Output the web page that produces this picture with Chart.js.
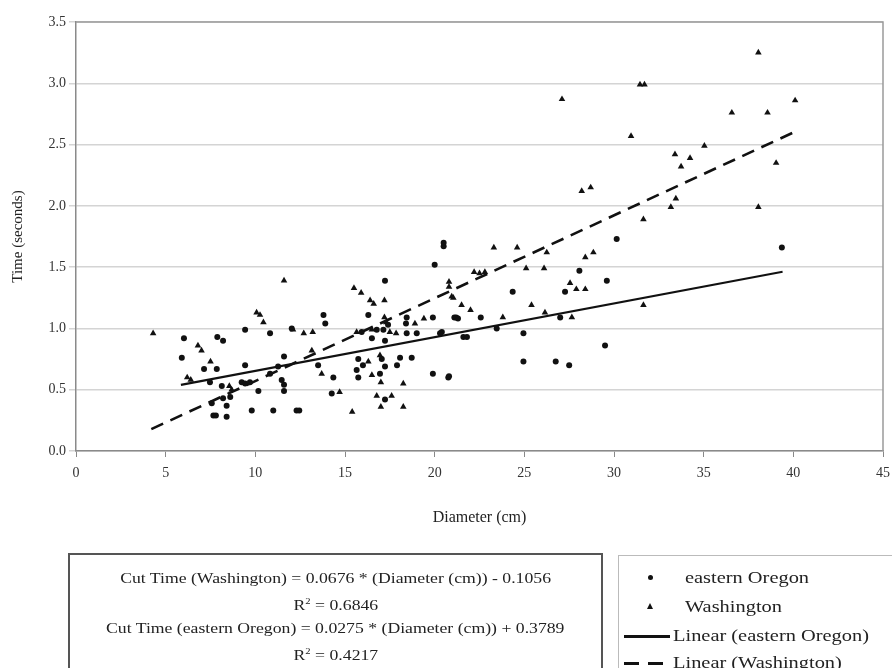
<!DOCTYPE html>
<html>
<head>
<meta charset="utf-8">
<script src="https://cdn.jsdelivr.net/npm/chart.js@4/dist/chart.umd.min.js"></script>
<style>
  body { margin: 0; background: #fff; font-family: "Liberation Serif", "DejaVu Serif", serif; }
  #wrap { position: relative; width: 892px; height: 668px; overflow: hidden; }
  #eqbox { position: absolute; left: 68px; top: 553px; width: 535px; height: 140px; border: 2px solid #555;
           text-align: center; font-size: 15px; color: #222; line-height: 23px; padding-top: 12px; box-sizing: border-box; }
  #eqbox div span { display: inline-block; transform: scaleX(1.18); }
  #eqbox sup { font-size: 9px; vertical-align: 6px; }
  #legbox { position: absolute; left: 618px; top: 555px; width: 290px; height: 140px; border: 1px solid #bbb;
            font-size: 17px; color: #222; box-sizing: border-box; }
  .row { position: absolute; left: 0; height: 20px; line-height: 20px; }
  .row span.t { position: absolute; white-space: nowrap; transform: scaleX(1.2); transform-origin: left center; }
</style>
</head>
<body>
<div id="wrap">
  <canvas id="myChart" width="892" height="668"></canvas>
  <div id="eqbox"></div>
  <div id="legbox"></div>
</div>
<script>
// eastern Oregon (dots)
const oregonX = [6.02, 5.9, 7.88, 8.2, 7.14, 7.85, 7.47, 8.13, 8.6, 8.2, 7.57, 8.4, 7.66, 7.8, 8.4,
  9.43, 9.43, 9.24, 9.43, 9.7, 10.17, 9.8, 11.0, 12.3, 10.82, 12.03, 11.6, 11.47, 11.6, 11.6, 11.27, 10.82,
  13.8, 13.9, 13.5, 14.35, 14.26, 12.45, 17.23, 16.3, 15.93, 16.77, 16.5, 17.4, 17.14, 17.23, 15.74, 15.65,
  15.74, 16.0, 17.05, 16.95, 17.23, 17.23, 17.9, 18.07, 18.72, 18.4, 18.44, 19.0, 19.9, 18.44, 19.9, 20.76,
  20.4, 20.5, 20.5, 20.0, 24.95, 24.95, 26.75, 27.5, 24.35, 23.46, 22.57, 21.1, 21.2, 21.3, 21.6, 21.8,
  20.3, 20.8, 28.07, 27.27, 27.0, 29.6, 29.5, 30.15, 39.36];
const oregonY = [0.92, 0.76, 0.93, 0.90, 0.67, 0.67, 0.56, 0.53, 0.44, 0.43, 0.39, 0.37, 0.29, 0.29, 0.28,
  0.99, 0.70, 0.56, 0.55, 0.56, 0.49, 0.33, 0.33, 0.33, 0.96, 1.00, 0.77, 0.58, 0.54, 0.49, 0.69, 0.63,
  1.11, 1.04, 0.70, 0.60, 0.47, 0.33, 1.39, 1.11, 0.97, 0.99, 0.92, 1.03, 0.99, 0.90, 0.75, 0.66,
  0.60, 0.70, 0.75, 0.63, 0.69, 0.42, 0.70, 0.76, 0.76, 1.04, 0.96, 0.96, 1.09, 1.09, 0.63, 0.60,
  0.97, 1.67, 1.70, 1.52, 0.96, 0.73, 0.73, 0.70, 1.30, 1.00, 1.09, 1.09, 1.09, 1.08, 0.93, 0.93,
  0.96, 0.61, 1.47, 1.30, 1.09, 1.39, 0.86, 1.73, 1.66];

// Washington (triangles)
const washX = [4.3, 6.2, 6.4, 7.0, 6.8, 7.5, 11.6, 12.7, 13.2, 13.15, 13.7, 15.5, 15.9, 16.4, 16.6, 17.2,
  15.4, 16.5, 17.0, 17.0, 18.25, 18.25, 17.2, 17.3, 15.65, 16.5, 20.8, 20.8, 21.5, 22.0, 22.2, 22.5, 22.8,
  23.3, 24.6, 25.1, 26.1, 26.25, 25.4, 23.8, 27.55, 28.85, 28.4, 27.9, 28.4, 27.1, 28.2, 28.7, 30.95,
  31.45, 31.7, 31.64, 31.64, 33.17, 33.45, 33.4, 33.74, 34.24, 35.04, 36.57, 38.05, 38.05, 38.56, 39.04,
  40.1, 27.65, 21.04, 20.95, 26.15, 10.07, 10.26, 10.45, 8.55, 8.68, 12.1, 14.7, 16.3, 16.95, 16.77,
  17.6, 18.9, 19.4, 17.85, 17.5];
const washY = [0.96, 0.60, 0.58, 0.82, 0.86, 0.73, 1.39, 0.96, 0.97, 0.82, 0.63, 1.33, 1.29, 1.23, 1.20, 1.23,
  0.32, 0.62, 0.56, 0.36, 0.36, 0.55, 1.09, 1.05, 0.97, 0.99, 1.34, 1.38, 1.19, 1.15, 1.46, 1.45, 1.46,
  1.66, 1.66, 1.49, 1.49, 1.62, 1.19, 1.09, 1.37, 1.62, 1.58, 1.32, 1.32, 2.87, 2.12, 2.15, 2.57,
  2.99, 2.99, 1.89, 1.19, 1.99, 2.06, 2.42, 2.32, 2.39, 2.49, 2.76, 3.25, 1.99, 2.76, 2.35,
  2.86, 1.09, 1.25, 1.26, 1.13, 1.13, 1.11, 1.05, 0.53, 0.50, 0.99, 0.48, 0.73, 0.78, 0.45,
  0.45, 1.04, 1.08, 0.96, 0.97];

// linear fits: [slope, intercept], drawn over [xStart, xEnd]
const oregonFit = [0.0275, 0.3789];
const oregonFitRange = [5.85, 39.4];
const washFit = [0.0676, -0.1056];
const washFitRange = [4.2, 40.2];

const xTicks = [0, 5, 10, 15, 20, 25, 30, 35, 40, 45];
const yTicks = [0.0, 0.5, 1.0, 1.5, 2.0, 2.5, 3.0, 3.5];

const equations = [
  "Cut Time (Washington) = 0.0676 * (Diameter (cm)) - 0.1056",
  "R<sup>2</sup> = 0.6846",
  "Cut Time (eastern Oregon) = 0.0275 * (Diameter (cm)) + 0.3789",
  "R<sup>2</sup> = 0.4217"
];
const legendNames = ["eastern Oregon", "Washington", "Linear (eastern Oregon)", "Linear (Washington)"];

const serif = "'Liberation Serif', 'DejaVu Serif', serif";

function pts(xs, ys) {
  return xs.map((x, i) => ({ x: x, y: ys[i] }));
}
function fitLine(fit, range) {
  return range.map(x => ({ x: x, y: fit[0] * x + fit[1] }));
}

// top and right edge of the plot box
const frame = {
  id: 'frame',
  afterDraw(chart) {
    const a = chart.chartArea;
    const c = chart.ctx;
    c.save();
    c.strokeStyle = '#9a9a9a';
    c.lineWidth = 1.5;
    c.beginPath();
    c.moveTo(a.left, a.top);
    c.lineTo(a.right, a.top);
    c.lineTo(a.right, a.bottom);
    c.stroke();
    c.restore();
  }
};

const ctx = document.getElementById("myChart");
new Chart(ctx, {
  type: 'scatter',
  data: {
    datasets: [
      { label: legendNames[0], data: pts(oregonX, oregonY), pointStyle: 'circle', pointRadius: 3,
        backgroundColor: '#111', borderColor: '#111', borderWidth: 0 },
      { label: legendNames[1], data: pts(washX, washY), pointStyle: 'triangle', pointRadius: 3.8,
        backgroundColor: '#111', borderColor: '#111', borderWidth: 0 },
      { label: legendNames[2], data: fitLine(oregonFit, oregonFitRange), showLine: true, pointRadius: 0,
        borderColor: '#111', borderWidth: 2.2, fill: false },
      { label: legendNames[3], data: fitLine(washFit, washFitRange), showLine: true, pointRadius: 0,
        borderColor: '#111', borderWidth: 2.6, borderDash: [13, 8], fill: false }
    ]
  },
  options: {
    responsive: false,
    animation: false,
    layout: { padding: { top: 22, right: 9, left: 0, bottom: 137 } },
    plugins: { legend: { display: false }, tooltip: { enabled: false } },
    scales: {
      x: {
        type: 'linear', min: 0, max: 45,
        afterBuildTicks: s => { s.ticks = xTicks.map(v => ({ value: v })); },
        afterFit: s => { s.height = 80; s.paddingLeft = 0; s.paddingRight = 0; },
        ticks: { color: '#333', font: { family: serif, size: 14 }, padding: 8, maxRotation: 0 },
        grid: { drawOnChartArea: false, tickLength: 6, color: '#888' },
        border: { color: '#8a8a8a', width: 1.5 },
        title: { display: true, text: 'Diameter (cm)', color: '#222', font: { family: serif, size: 16 },
                 padding: { top: 0, bottom: 4 } }
      },
      y: {
        type: 'linear', min: 0, max: 3.5,
        afterBuildTicks: s => { s.ticks = yTicks.map(v => ({ value: v })); },
        afterFit: s => { s.width = 76; s.paddingTop = 0; s.paddingBottom = 0; },
        ticks: { color: '#333', font: { family: serif, size: 14 }, padding: 3,
                 callback: v => v.toFixed(1) },
        grid: { color: '#d4d4d4', lineWidth: 1.5, tickLength: 7 },
        border: { color: '#8a8a8a', width: 1.5 },
        title: { display: true, text: 'Time (seconds)', color: '#222', font: { family: serif, size: 15 },
                 padding: { top: 9, bottom: 0 } }
      }
    }
  },
  plugins: [frame]
});

// equation box
document.getElementById("eqbox").innerHTML = equations.map(e => `<div><span>${e}</span></div>`).join('');

// legend box
const legbox = document.getElementById("legbox");
const rowTops = [12, 41, 70, 97];
const markers = [
  '<span style="position:absolute;left:29px;top:7px;width:5px;height:5px;border-radius:50%;background:#111"></span>',
  '<span style="position:absolute;left:28px;top:6px;width:0;height:0;border-left:3.5px solid transparent;border-right:3.5px solid transparent;border-bottom:6px solid #111"></span>',
  '<span style="position:absolute;left:5px;top:9px;width:46px;height:3px;background:#111"></span>',
  '<span style="position:absolute;left:5px;top:9px;width:15px;height:3px;background:#111"></span><span style="position:absolute;left:29px;top:9px;width:15px;height:3px;background:#111"></span>'
];
const textLeft = [66, 66, 54, 54];
legendNames.forEach((name, i) => {
  const r = document.createElement('div');
  r.className = 'row';
  r.style.top = rowTops[i] + 'px';
  r.style.width = '290px';
  r.innerHTML = markers[i] + `<span class="t" style="left:${textLeft[i]}px">${name}</span>`;
  legbox.appendChild(r);
});
</script>
</body>
</html>
